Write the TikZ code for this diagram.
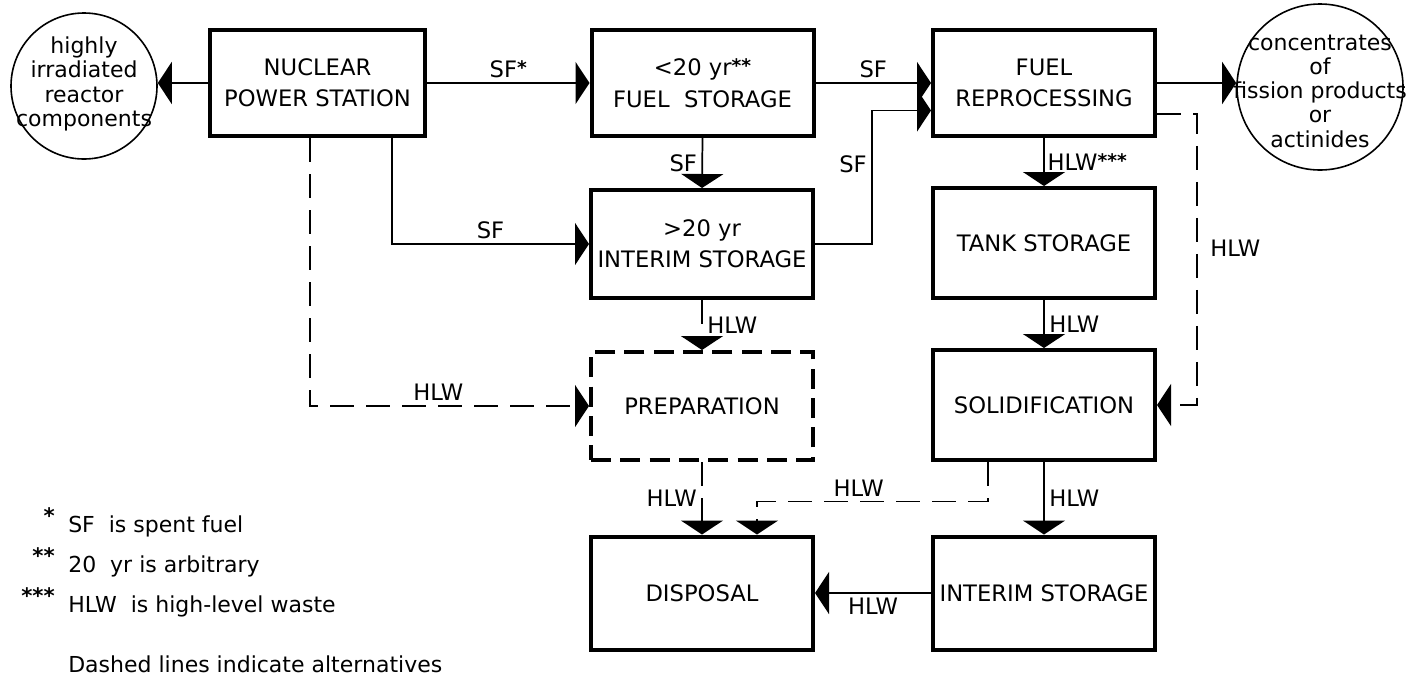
\documentclass[tikz,border=0pt]{standalone}
\usepackage{fontspec}
\setmainfont{DejaVu Sans}
\usetikzlibrary{arrows.meta,calc}
\newcommand\stars[1]{\raisebox{2.5pt}{\fontsize{14}{14}\selectfont\bfseries #1}}
\begin{document}
\begin{tikzpicture}[x=0.75pt,y=-0.75pt,
  txt/.style={font=\fontsize{17}{23.5}\selectfont},
  box/.style={txt,draw,line width=3pt,minimum width=166.5pt,align=center,inner sep=0pt},
  dbox/.style={box,dash pattern=on 15pt off 7pt},
  circ/.style={draw,circle,line width=1.2pt,inner sep=0pt},
  ctext/.style={font=\fontsize{16.5}{18.2}\selectfont,align=center,inner sep=0pt},
  conn/.style={line width=1.3pt,-{Triangle[length=10.5pt,width=31.5pt]}},
  dsh/.style={dash pattern=on 18pt off 9pt},
  lab/.style={txt},
  fn/.style={font=\fontsize{16.5}{20}\selectfont,inner sep=0pt},
  star/.style={font=\fontsize{16}{16}\selectfont\bfseries,inner sep=0pt}]
\useasboundingbox (0,0) rectangle (1426,676);

% circles
\node[circ,minimum size=109.5pt] (lcirc) at (84,86) {};
\node[ctext] (lcirctext) at (84,84) {highly\\irradiated\\reactor\\components};
\node[circ,minimum size=124.5pt] (rcirc) at (1320,87) {};
\node[ctext] (rcirctext) at (1320,91) {concentrates\\of\\fission products\\or\\actinides};

% boxes
\node[box,minimum width=161.25pt,minimum height=79.5pt] (nps) at (317.5,83) {NUCLEAR\\POWER STATION};
\node[box,minimum height=79.5pt] (fs) at (702.5,83) {<20 yr\stars{**}\\FUEL\ \ STORAGE};
\node[box,minimum height=79.5pt] (fr) at (1044,83) {FUEL\\REPROCESSING};
\node[box,minimum height=81pt] (is1) at (702,244) {>20 yr\\INTERIM STORAGE};
\node[box,minimum height=82.5pt] (ts) at (1044,243) {TANK STORAGE};
\node[dbox,minimum height=81pt] (prep) at (702,406) {PREPARATION};
\node[box,minimum height=82.5pt] (sol) at (1044,405) {SOLIDIFICATION};
\node[box,minimum height=84.75pt] (disp) at (702,593) {DISPOSAL};
\node[box,minimum height=84.75pt] (is2) at (1044,593) {INTERIM STORAGE};

% connectors
\draw[conn] (nps.west) -- (nps.west -| lcirc.east);
\draw[conn] (nps.east) -- node[lab,above]{SF\stars{*}} (fs.west);
\draw[conn] (fs.east) -- node[lab,above]{SF} (fr.west);
\draw[conn] (fr.east) -- (fr.east -| rcirc.west);
\draw[conn] (fs.south) -- node[lab,left]{SF} (is1.north);
\coordinate (frin) at ($(fr.south west)!0.25!(fr.north west)$);
\draw[conn] (is1.east) -- ++(57,0) |- (frin) node[lab,pos=0.3,left]{SF};
\draw[conn] ($(nps.south)+(74.5,0)$) |- (is1.west) node[lab,pos=0.75,above]{SF};
\draw[conn,dsh] ($(nps.south)+(-7.5,0)$) |- (prep.west) node[lab,pos=0.73,above]{HLW};
\draw[conn,dsh] (is1.south) -- node[lab,right]{HLW} (prep.north);
\draw[conn,dsh] (prep.south) -- node[lab,left]{HLW} (disp.north);
\draw[conn] (fr.south) -- node[lab,right,inner sep=2pt]{HLW\stars{***}} (ts.north);
\coordinate (frd) at ($(fr.south east)!0.22!(fr.north east)$);
\draw[conn,dsh] (frd) -- ++(40,0) |- (sol.east) node[lab,pos=0.23,right,xshift=6pt]{HLW};
\draw[conn] (ts.south) -- node[lab,right]{HLW} (sol.north);
\draw[conn] (sol.south) -- node[lab,right]{HLW} (is2.north);
\coordinate (solb) at ($(sol.south)+(-56,0)$);
\coordinate (dispa) at ($(disp.north)+(55,0)$);
\draw[conn,dsh] (solb) |- ($(dispa)+(0,-33)$) node[lab,pos=0.78,above]{HLW} -- (dispa);
\draw[conn] (is2.west) -- node[lab,below]{HLW} (disp.east);

% footnotes
\node[fn,anchor=base west] (f1) at (68,532) {SF\ \ is spent\ fuel};
\node[fn,anchor=base west] (f2) at (68,572) {20\ \ yr is arbitrary};
\node[fn,anchor=base west] (f3) at (68,612) {HLW\ \ is\ high-level waste};
\node[fn,anchor=base west] (f4) at (68,672) {Dashed lines indicate alternatives};
\node[star,anchor=north east] (s1) at (55,507) {*};
\node[star,anchor=north east] (s2) at (55,547) {**};
\node[star,anchor=north east] (s3) at (55,587) {***};
\end{tikzpicture}
\end{document}
